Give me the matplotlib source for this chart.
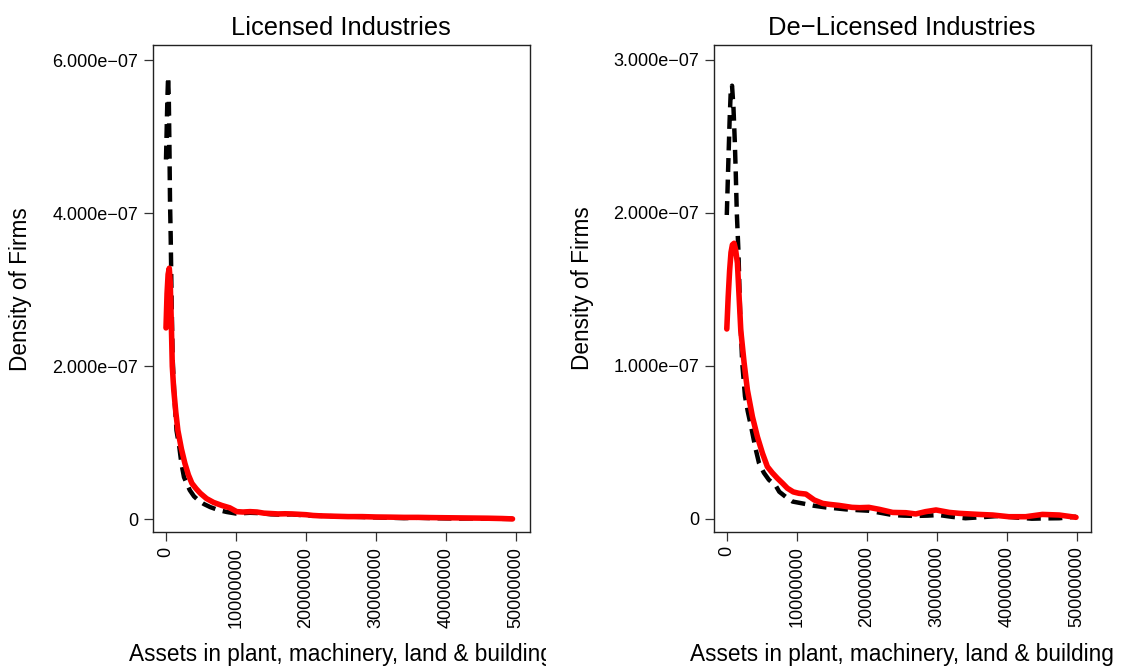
import matplotlib
matplotlib.use("Agg")
import matplotlib.pyplot as plt
from matplotlib.transforms import Bbox, TransformedBbox

plt.rcParams["font.family"] = ["Liberation Sans", "DejaVu Sans"]
plt.rcParams["lines.scale_dashes"] = False

# ---- data (x in units of 1e6, density in units of 1e-7) ----
lic_before_x = [0, 0.1, 0.2, 0.3, 0.4, 0.5, 0.57, 0.67, 0.8, 0.95, 1.2, 1.5, 1.9,
                2.2, 2.57, 3.0, 3.4, 4.0, 4.6, 5.4, 6.3, 7.5, 8.7, 10, 11, 12,
                13.5, 15, 16.5, 18, 20, 22, 24, 26, 28, 30, 32, 34, 36, 38, 40,
                42, 44, 46, 48, 49.5]
lic_before_y = [4.7, 5.1, 5.5, 5.78, 5.5, 4.8, 4.17, 3.7, 2.86, 2.1, 1.6, 1.16, 0.945,
                0.73, 0.55, 0.46, 0.38, 0.3, 0.25, 0.2, 0.16, 0.12, 0.095, 0.075, 0.08,
                0.085, 0.08, 0.065, 0.06, 0.065, 0.05, 0.045, 0.04, 0.035, 0.03, 0.025,
                0.02, 0.015, 0.02, 0.015, 0.012, 0.01, 0.012, 0.008, 0.006, 0.005]

lic_after_x = [0, 0.15, 0.3, 0.47, 0.6, 0.75, 0.9, 1.1, 1.4, 1.7, 2.2, 2.7, 3.2,
               3.7, 4.3, 4.9, 5.8, 6.8, 8, 9.1, 10.1, 11, 12, 13, 14, 15, 16, 17,
               18, 19, 20, 21, 22, 24, 26, 28, 30, 32, 34, 36, 38, 40, 42, 44, 46,
               48, 49.5]
lic_after_y = [2.5, 2.95, 3.2, 3.28, 3.1, 2.6, 2.0, 1.7, 1.4, 1.16, 0.92, 0.73, 0.58,
               0.47, 0.4, 0.34, 0.27, 0.22, 0.18, 0.15, 0.1, 0.095, 0.1, 0.095, 0.08,
               0.075, 0.07, 0.072, 0.07, 0.065, 0.06, 0.05, 0.045, 0.04, 0.035, 0.035,
               0.03, 0.028, 0.025, 0.025, 0.022, 0.02, 0.018, 0.016, 0.014, 0.01, 0.005]

delic_before_x = [0, 0.2, 0.4, 0.57, 0.75, 0.95, 1.14, 1.28, 1.43, 1.66, 1.9, 2.2,
                  2.6, 3.0, 3.57, 4.1, 4.6, 5.3, 6.0, 7.0, 7.5, 8.5, 9.4, 10.8, 12.4,
                  14.1, 15.5, 17.0, 18.7, 20.3, 22.0, 23.7, 25.3, 27.0, 28.7, 30.3,
                  32.2, 34.1, 36.5, 38.9, 41.2, 43.6, 45.5, 47.5, 49.9]
delic_before_y = [1.985, 2.3, 2.6, 2.8, 2.83, 2.69, 2.47, 2.26, 2.0, 1.75, 1.35, 1.02,
                  0.8, 0.7, 0.58, 0.46, 0.364, 0.3, 0.255, 0.215, 0.176, 0.14, 0.112,
                  0.1, 0.085, 0.074, 0.068, 0.061, 0.056, 0.052, 0.038, 0.024, 0.02,
                  0.018, 0.02, 0.024, 0.012, 0.003, 0.01, 0.018, 0.008, 0.0, 0.002,
                  0.003, 0.013]

delic_after_x = [0, 0.2, 0.4, 0.6, 0.8, 1.04, 1.25, 1.52, 1.76, 2.0, 2.47, 2.95, 3.66,
                 4.37, 5.1, 5.8, 6.5, 7.23, 8.0, 8.66, 9.5, 10.3, 11.3, 12.5, 13.7,
                 14.6, 16.0, 17.9, 19.0, 20.3, 21.8, 23.7, 25.6, 27.0, 28.4, 29.9,
                 31.8, 33.2, 36.0, 38.0, 40.3, 42.7, 45.1, 47.5, 49.9]
delic_after_y = [1.24, 1.45, 1.62, 1.74, 1.79, 1.8, 1.76, 1.67, 1.45, 1.23, 1.02, 0.84,
                 0.667, 0.536, 0.427, 0.34, 0.3, 0.264, 0.23, 0.199, 0.175, 0.166,
                 0.161, 0.122, 0.1, 0.094, 0.087, 0.074, 0.072, 0.074, 0.061, 0.041,
                 0.039, 0.031, 0.046, 0.057, 0.041, 0.035, 0.028, 0.024, 0.013, 0.013,
                 0.028, 0.024, 0.009]

x_ticks = [0, 10000000, 20000000, 30000000, 40000000, 50000000]
x_tick_labels = ["0", "10000000", "20000000", "30000000", "40000000", "50000000"]

lic_y_ticks = [0, 2e-7, 4e-7, 6e-7]
lic_y_labels = ["0", "2.000e\u221207", "4.000e\u221207", "6.000e\u221207"]
delic_y_ticks = [0, 1e-7, 2e-7, 3e-7]
delic_y_labels = ["0", "1.000e\u221207", "2.000e\u221207", "3.000e\u221207"]

titles = ["Licensed Industries", "De\u2212Licensed Industries"]
x_label = "Assets in plant, machinery, land & building"
y_label = "Density of Firms"

X_SCALE = 1e6
Y_SCALE = 1e-7

W, H = 1121, 669
fig = plt.figure(figsize=(W / 100, H / 100), dpi=100)

# axes boxes in pixel coordinates (left, top, right, bottom)
boxes = [(152.7, 45, 530.0, 532.3), (713.5, 45, 1090.7, 531.7)]
ylims = [(-0.17e-7, 6.196e-7), (-0.085e-7, 3.096e-7)]
xlim = (-1.9e6, 5.2e7)

panels = [
    (lic_before_x, lic_before_y, lic_after_x, lic_after_y, lic_y_ticks, lic_y_labels),
    (delic_before_x, delic_before_y, delic_after_x, delic_after_y, delic_y_ticks, delic_y_labels),
]

for i, (bx, by, ax_, ay, yt, yl) in enumerate(panels):
    l, t, r, b = boxes[i]
    ax = fig.add_axes([l / W, 1 - b / H, (r - l) / W, (b - t) / H])
    ax.plot([v * X_SCALE for v in bx], [v * Y_SCALE for v in by],
            color="black", lw=3.2, dashes=(10.0, 5.5), dash_capstyle="butt")
    ax.plot([v * X_SCALE for v in ax_], [v * Y_SCALE for v in ay],
            color="#ff0000", lw=4.0, solid_capstyle="round", solid_joinstyle="round")
    ax.set_xlim(*xlim)
    ax.set_ylim(*ylims[i])
    ax.set_xticks(x_ticks)
    ax.set_xticklabels(x_tick_labels, rotation=90, fontsize=13, va="top")
    ax.set_yticks(yt)
    ax.set_yticklabels(yl, fontsize=13)
    ax.tick_params(axis="both", length=6.5, width=0.9, color="#333333")
    ax.tick_params(axis="x", pad=4)
    ax.tick_params(axis="y", pad=4)
    for s in ax.spines.values():
        s.set_linewidth(1.0)
        s.set_color("#222222")
    ax.set_title(titles[i], fontsize=18.4, pad=7)

    # y-axis label
    ylab_x = 21 if i == 0 else 582
    fig.text(ylab_x / W, 1 - ((t + b) / 2) / H, y_label, rotation=90,
             ha="center", va="center", fontsize=16.3)

    # x-axis label, clipped to the panel's own part of the figure
    cx = (l + r) / 2
    txt = fig.text(cx / W, 1 - 654 / H, x_label, ha="center", va="center",
                   fontsize=16.3)
    half = (0, 0, 546 / W, 1) if i == 0 else (560.5 / W, 0, 1, 1)
    txt.set_clip_box(TransformedBbox(Bbox([[half[0], half[1]], [half[2], half[3]]]),
                                     fig.transFigure))
    txt.set_clip_on(True)

fig.savefig("out.png", dpi=100)
